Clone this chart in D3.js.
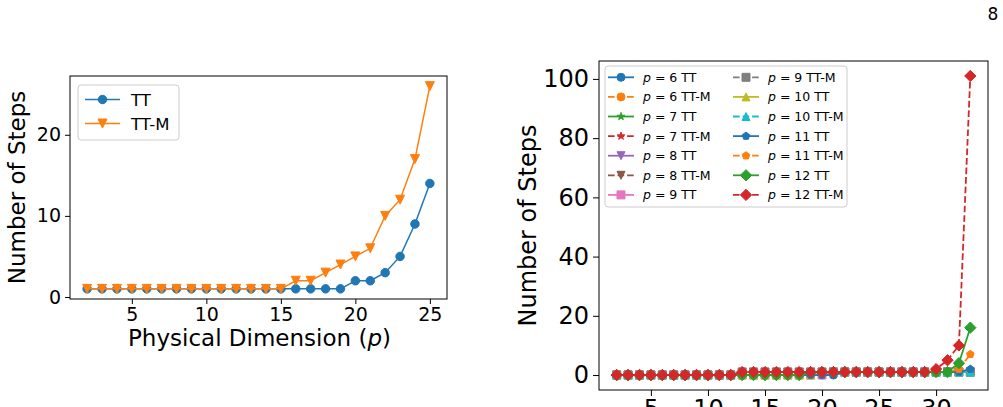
<!DOCTYPE html>
<html>
<head>
<meta charset="utf-8">
<script src="https://cdn.jsdelivr.net/npm/d3@7/dist/d3.min.js"></script>
<style>
body { margin: 0; background: #fff; }
text { font-family: "DejaVu Sans", sans-serif; fill: #000; }
</style>
</head>
<body>
<div id="fig"></div>
<script>
// left panel: steps vs physical dimension
var dims = [2, 3, 4, 5, 6, 7, 8, 9, 10, 11, 12, 13, 14, 15, 16, 17, 18, 19, 20, 21, 22, 23, 24, 25];
var ttSteps = [1, 1, 1, 1, 1, 1, 1, 1, 1, 1, 1, 1, 1, 1, 1, 1, 1, 1, 2, 2, 3, 5, 9, 14];
var ttmSteps = [1, 1, 1, 1, 1, 1, 1, 1, 1, 1, 1, 1, 1, 1, 2, 2, 3, 4, 5, 6, 10, 12, 17, 26];
var leftNames = ["TT", "TT-M"];
var leftXTicks = [5, 10, 15, 20, 25];
var leftYTicks = [0, 10, 20];

// right panel: one series per p, TT and TT-M
var xs = [2, 3, 4, 5, 6, 7, 8, 9, 10, 11, 12, 13, 14, 15, 16, 17, 18, 19, 20, 21, 22, 23, 24, 25, 26, 27, 28, 29, 30, 31, 32, 33];
var p6tt   = [0,0,0,0,0,0,0,0,0,0,0,0,0,0,0,0,0,0,0,0,1,1,1,1,1,1,1,1,1,1,1,1];
var p6ttm  = [0,0,0,0,0,0,0,0,0,0,0,1,1,1,1,1,1,1,1,1,1,1,1,1,1,1,1,1,1,1,1,1];
var p7tt   = [0,0,0,0,0,0,0,0,0,0,0,0,0,0,0,0,0,1,1,1,1,1,1,1,1,1,1,1,1,1,1,1];
var p7ttm  = [0,0,0,0,0,0,0,0,0,0,0,1,1,1,1,1,1,1,1,1,1,1,1,1,1,1,1,1,1,1,1,1];
var p8tt   = [0,0,0,0,0,0,0,0,0,0,0,0,0,0,0,0,0,0,0,1,1,1,1,1,1,1,1,1,1,1,1,1];
var p8ttm  = [0,0,0,0,0,0,0,0,0,0,0,1,1,1,1,1,1,1,1,1,1,1,1,1,1,1,1,1,1,1,1,1];
var p9tt   = [0,0,0,0,0,0,0,0,0,0,0,0,0,0,0,0,0,0,0,1,1,1,1,1,1,1,1,1,1,1,1,1];
var p9ttm  = [0,0,0,0,0,0,0,0,0,0,0,1,1,1,1,1,1,1,1,1,1,1,1,1,1,1,1,1,1,1,1,1];
var p10tt  = [0,0,0,0,0,0,0,0,0,0,0,0,0,0,0,0,0,0,1,1,1,1,1,1,1,1,1,1,1,1,1,1];
var p10ttm = [0,0,0,0,0,0,0,0,0,0,0,1,1,1,1,1,1,1,1,1,1,1,1,1,1,1,1,1,1,1,1,1];
var p11tt  = [0,0,0,0,0,0,0,0,0,0,0,0,0,0,0,0,0,0,0,0,1,1,1,1,1,1,1,1,1,1,1,2];
var p11ttm = [0,0,0,0,0,0,0,0,0,0,0,1,1,1,1,1,1,1,1,1,1,1,1,1,1,1,1,1,1,1,2,7];
var p12tt  = [0,0,0,0,0,0,0,0,0,0,0,0,0,0,0,0,0,1,1,1,1,1,1,1,1,1,1,1,1,1,4,16];
var p12ttm = [0,0,0,0,0,0,0,0,0,0,0,1,1,1,1,1,1,1,1,1,1,1,1,1,1,1,1,1,2,5,10,101];
var rightSeries = [p6tt, p6ttm, p7tt, p7ttm, p8tt, p8ttm, p9tt, p9ttm, p10tt, p10ttm, p11tt, p11ttm, p12tt, p12ttm];
var rightP = [6, 6, 7, 7, 8, 8, 9, 9, 10, 10, 11, 11, 12, 12];
var rightMethod = ["TT", "TT-M", "TT", "TT-M", "TT", "TT-M", "TT", "TT-M", "TT", "TT-M", "TT", "TT-M", "TT", "TT-M"];
var rightXTicks = [5, 10, 15, 20, 25, 30];
var rightYTicks = [0, 20, 40, 60, 80, 100];

var colors = ["#1f77b4", "#ff7f0e", "#2ca02c", "#d62728", "#9467bd", "#8c564b", "#e377c2", "#7f7f7f", "#bcbd22", "#17becf", "#1f77b4", "#ff7f0e", "#2ca02c", "#d62728"];
var markers = ["o", "o", "*", "*", "v", "v", "s", "s", "^", "^", "p", "p", "D", "D"];

var svg = d3.select('#fig').append('svg').attr('width', 1003).attr('height', 407);
svg.append('rect').attr('width', 1003).attr('height', 407).attr('fill', '#fff');

function polyPath(pts) {
    return "M" + pts.map(function (p) { return p[0].toFixed(2) + "," + p[1].toFixed(2); }).join("L") + "Z";
}

// matplotlib-like marker shapes, ms = marker size in px
function markerPath(m, ms) {
    var r = ms / 2, pts = [], i, a, rr;
    if (m == "o") return d3.symbol(d3.symbolCircle, Math.PI * r * r)();
    if (m == "s") return polyPath([[-r, -r], [r, -r], [r, r], [-r, r]]);
    if (m == "D") { rr = r * Math.SQRT2; return polyPath([[0, -rr], [rr, 0], [0, rr], [-rr, 0]]); }
    if (m == "^") return polyPath([[0, -r], [r, r], [-r, r]]);
    if (m == "v") return polyPath([[0, r], [r, -r], [-r, -r]]);
    if (m == "p") {
	for (i = 0; i < 5; i++) { a = -Math.PI / 2 + i * 2 * Math.PI / 5; pts.push([r * Math.cos(a), r * Math.sin(a)]); }
	return polyPath(pts);
    }
    for (i = 0; i < 10; i++) {
	a = -Math.PI / 2 + i * Math.PI / 5;
	rr = i % 2 ? r * 0.381966 : r;
	pts.push([rr * Math.cos(a), rr * Math.sin(a)]);
    }
    return polyPath(pts);
}

function drawAxes(g, x, y, xt, yt, fs, tick) {
    var r = x.range(), b = y.range();
    g.append('g').attr('transform', 'translate(0,' + b[0] + ')')
	.call(d3.axisBottom(x).tickValues(xt).tickSize(tick).tickSizeOuter(0).tickPadding(4));
    g.append('g').attr('transform', 'translate(' + r[0] + ',0)')
	.call(d3.axisLeft(y).tickValues(yt).tickSize(tick).tickSizeOuter(0).tickPadding(4));
    g.selectAll('.domain').remove();
    g.selectAll('.tick line').attr('stroke', '#000').attr('stroke-width', 1);
    g.selectAll('.tick text').attr('font-size', fs).attr('font-family', 'DejaVu Sans').attr('fill', '#000');
    g.append('rect').attr('x', r[0]).attr('y', b[1]).attr('width', r[1] - r[0]).attr('height', b[0] - b[1])
	.attr('fill', 'none').attr('stroke', '#000').attr('stroke-width', 1);
}

function drawSeries(g, x, y, xv, yv, c, m, ms, dashed, lw) {
    var line = d3.line().x(function (d, i) { return x(xv[i]); }).y(function (d) { return y(d); });
    g.append('path').datum(yv).attr('d', line).attr('fill', 'none').attr('stroke', c)
	.attr('stroke-width', lw).attr('stroke-dasharray', dashed ? (3.7 * lw) + ',' + (1.6 * lw) : null);
    var mp = markerPath(m, ms);
    yv.forEach(function (v, i) {
	g.append('path').attr('d', mp).attr('transform', 'translate(' + x(xv[i]) + ',' + y(v) + ')')
	    .attr('fill', c).attr('stroke', c).attr('stroke-width', 1);
    });
}

function legendEntry(g, x0, x1, ty, c, m, ms, dashed, lw) {
    g.append('line').attr('x1', x0).attr('x2', x1).attr('y1', ty).attr('y2', ty).attr('stroke', c)
	.attr('stroke-width', lw).attr('stroke-dasharray', dashed ? (3.7 * lw) + ',' + (1.6 * lw) : null);
    g.append('path').attr('d', markerPath(m, ms)).attr('transform', 'translate(' + ((x0 + x1) / 2) + ',' + ty + ')')
	.attr('fill', c).attr('stroke', c).attr('stroke-width', 1);
}

// ---- left panel
var gl = svg.append('g');
var xl = d3.scaleLinear().domain([0.85, 26.15]).range([70, 447]);
var yl = d3.scaleLinear().domain([-0.25, 27.25]).range([299, 76]);
drawAxes(gl, xl, yl, leftXTicks, leftYTicks, 19, 5);
drawSeries(gl, xl, yl, dims, ttSteps, colors[0], "o", 8.5, false, 1.5);
drawSeries(gl, xl, yl, dims, ttmSteps, colors[1], "v", 9, false, 1.5);
var xlab = gl.append('text').attr('x', (70 + 447) / 2 + 1).attr('y', 346).attr('text-anchor', 'middle').attr('font-size', 23);
xlab.append('tspan').text('Physical Dimension (');
xlab.append('tspan').attr('font-style', 'italic').text('p');
xlab.append('tspan').text(')');
gl.append('text').attr('transform', 'translate(25,' + ((76 + 299) / 2) + ') rotate(-90)')
    .attr('text-anchor', 'middle').attr('font-size', 23).text('Number of Steps');

var lgl = gl.append('g');
lgl.append('rect').attr('x', 78).attr('y', 85).attr('width', 101).attr('height', 55).attr('rx', 3)
    .attr('fill', '#fff').attr('fill-opacity', 0.8).attr('stroke', '#ccc');
leftNames.forEach(function (n, i) {
    var ty = 99.5 + i * 24;
    legendEntry(lgl, 85, 120, ty, colors[i], i ? "v" : "o", i ? 9 : 8.5, false, 1.5);
    lgl.append('text').attr('x', 131).attr('y', ty + 6).attr('font-size', 16.5).text(n);
});

// ---- right panel
var gr = svg.append('g');
var xr = d3.scaleLinear().domain([0.45, 34.55]).range([599, 988]);
var yr = d3.scaleLinear().domain([-5.05, 106.05]).range([390, 61]);
drawAxes(gr, xr, yr, rightXTicks, rightYTicks, 24, 6);
rightSeries.forEach(function (s, i) {
    drawSeries(gr, xr, yr, xs, s, colors[i], markers[i], 8, i % 2 == 1, 1.8);
});
gr.append('text').attr('transform', 'translate(536,' + ((61 + 390) / 2) + ') rotate(-90)')
    .attr('text-anchor', 'middle').attr('font-size', 24).text('Number of Steps');

var lgr = gr.append('g');
lgr.append('rect').attr('x', 605).attr('y', 66).attr('width', 242).attr('height', 141).attr('rx', 3)
    .attr('fill', '#fff').attr('fill-opacity', 0.8).attr('stroke', '#ccc');
rightSeries.forEach(function (s, i) {
    var col = i < 7 ? 0 : 1, row = i % 7;
    var ty = 77.3 + row * 19.6;
    var hx = col ? 733 : 608;
    legendEntry(lgr, hx, hx + 26, ty, colors[i], markers[i], 8, i % 2 == 1, 1.8);
    var t = lgr.append('text').attr('x', hx + 35).attr('y', ty + 4.5).attr('font-size', 12.5);
    t.append('tspan').attr('font-style', 'italic').text('p');
    t.append('tspan').text(' = ' + rightP[i] + ' ' + rightMethod[i]);
});

// page number
svg.append('text').attr('x', 993).attr('y', 20).attr('text-anchor', 'middle')
    .attr('font-family', 'Liberation Serif, DejaVu Serif, serif').attr('font-size', 17).text('8');
</script>
</body>
</html>
